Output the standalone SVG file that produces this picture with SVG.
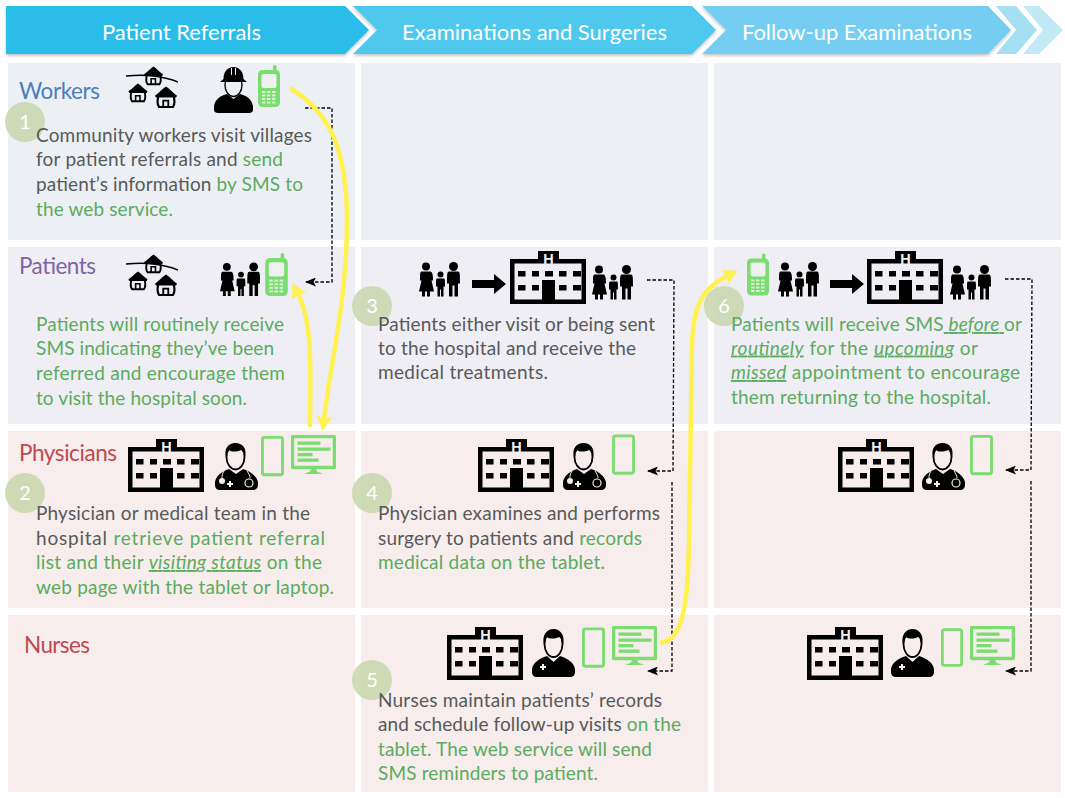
<svg xmlns="http://www.w3.org/2000/svg" width="1065" height="798" viewBox="0 0 1065 798">
<style>
text{font-family:"Lato","Carlito","Open Sans",sans-serif}
.b{font-size:19px;fill:#595959}
.g{fill:#5cab5f}
.bg{font-size:19px;fill:#5cab5f}
.u{font-style:italic;text-decoration:underline}
.t{font-size:22.500px}
.h{font-size:22px;fill:#fff}
.n{font-size:20px;fill:#fff;text-anchor:middle}
.w{fill:#ecf0f4}.p{fill:#efeef4}.r{fill:#f6edec}
.c{fill:#c8d6ab;fill-opacity:.85}
.d{fill:none;stroke:#000;stroke-width:1.300;stroke-dasharray:3.500 2}
.y{fill:none;stroke:#fff14f;stroke-width:4.500;stroke-linecap:butt}
</style>
<defs>
<filter id="sh" x="-5%" y="-20%" width="110%" height="140%"><feDropShadow dx="0" dy="2" stdDeviation="1.500" flood-color="#000" flood-opacity=".22"/></filter>
<marker id="ah" viewBox="0 0 11 9" refX="10" refY="4.500" markerWidth="11" markerHeight="9" markerUnits="userSpaceOnUse" orient="auto"><path d="M11,4.500 L0,0 L2.500,4.500 L0,9 Z" fill="#000"/></marker>
<marker id="ay" viewBox="0 0 15 16" refX="3" refY="8" markerWidth="15" markerHeight="16" markerUnits="userSpaceOnUse" orient="auto"><path d="M0,0 L15,8 L0,16 L3,8 Z" fill="#fff14f"/></marker>
<symbol id="hut" viewBox="0 0 24 24" overflow="visible"><path d="M0,10.500 C4,8 8,3 12,0.500 C16,3 20,8 24,10.500 L23,12.500 H1 Z" fill="#000"/><path d="M3.500,12 C2.500,16 3,21 4.500,23 H19.500 C21,21 21.500,16 20.500,12" fill="none" stroke="#000" stroke-width="2.400"/><path d="M9,23 V16 H14.500 V23" fill="none" stroke="#000" stroke-width="2"/></symbol>
<symbol id="village" viewBox="0 0 52 42"><path d="M0,10 C10,9 20,9 27,10 C35,11 45,13 52,16" fill="none" stroke="#000" stroke-width="1.600"/><use href="#hut" x="17" y="0" width="21" height="19"/><use href="#hut" x="1" y="17" width="22" height="19"/><use href="#hut" x="28" y="20" width="24" height="22"/></symbol>
<symbol id="family" viewBox="0 0 41 34"><circle cx="7" cy="4" r="4"/><path d="M3,9 H11 C13,9 14,11 14,18 H12.500 L15,29 H11 V34 H8 V29 H6 V34 H3 V29 H0 L2.500,18 H1 C1,11 1,9 3,9 Z"/><circle cx="21.500" cy="12" r="3"/><path d="M18,16 H25 C26,16 26,18 26,24 H24.500 V34 H22 V27 H21 V34 H18.500 V24 H17 C17,18 17,16 18,16 Z"/><circle cx="34.500" cy="4" r="4.500"/><path d="M30,9 H39 C41,9 41,12 41,21 H39 V34 H35.500 V23 H33.500 V34 H30 V21 H28 C28,12 28,9 30,9 Z"/></symbol>
<symbol id="hospital" viewBox="0 0 76 53"><path fill-rule="evenodd" d="M0,8 H28 V0 H49 V8 H76 V53 H0 Z M4.500,12.500 V48.500 H71.500 V12.500 Z"/><rect x="8" y="20" width="7.500" height="5.500"/><rect x="22" y="20" width="7" height="5.500"/><rect x="35" y="20" width="8" height="5.500"/><rect x="49" y="20" width="7.500" height="5.500"/><rect x="63" y="20" width="8" height="5.500"/><rect x="8" y="34" width="7.500" height="5.500"/><rect x="22" y="34" width="7" height="5.500"/><rect x="49" y="34" width="7.500" height="5.500"/><rect x="63" y="34" width="8" height="5.500"/><rect x="32" y="29" width="13" height="24"/><text x="38.500" y="12.500" text-anchor="middle" style="font-family:'Liberation Sans',sans-serif;font-size:14.500px;font-weight:bold;fill:#eee">H</text></symbol>
<symbol id="arrow" viewBox="0 0 34 20"><path d="M0,6 H22 V0 L34,10 L22,20 V14 H0 Z"/></symbol>
<symbol id="worker" viewBox="0 0 39 46"><path d="M0,43 C-1,34 5,29 13,27 L19.500,32 L26,27 C34,29 40,34 39,43 C39,45 37,46 35,46 H4 C2,46 0,45 0,43 Z"/><ellipse cx="19.500" cy="18" rx="8.500" ry="11.500" fill="#ecf0f4" stroke="#000" stroke-width="1.400"/><path d="M9.500,12 C9.500,5 13,0.500 19.500,0 C26,0.500 29.500,5 29.500,12 L33,15 H6 Z"/><path d="M17.500,1 V8 M21.500,1 V8" stroke="#ecf0f4" stroke-width="1"/></symbol>
<symbol id="doctor" viewBox="0 0 43 49"><path d="M0,42 C-1,35 5,29 14,26 L21,31 L28,26 C37,29 44,35 43,42 C43,45 41,47 38,47 H5 C2,47 0,45 0,42 Z"/><ellipse cx="20.500" cy="14" rx="9" ry="12.500" fill="#f6edec" stroke="#000" stroke-width="1.800"/><path d="M11,15 C8.500,5 14,0 20.500,0 C27,0 32.500,5 30,15 C29.500,10 28,8 26,7 C22,9 16,9 14,7 C13,9 11.500,11 11,15 Z"/><path d="M9,28 C7,31 7,33 7,35 M32,28 C34,31 35,33 35,35" fill="none" stroke="#f6edec" stroke-width="1"/><circle cx="7" cy="38" r="3" fill="#f6edec"/><circle cx="34" cy="40" r="4" fill="none" stroke="#f6edec" stroke-width="1.200"/><path d="M15,38 V44 M12,41 H18" stroke="#f6edec" stroke-width="2"/></symbol>
<symbol id="nurse" viewBox="0 0 43 48"><path d="M0,43 C-1,35 6,30 15,27 L21.500,33 L28,27 C37,30 44,35 43,43 C43,46 41,48 38,48 H5 C2,48 0,46 0,43 Z"/><ellipse cx="21.500" cy="15" rx="9" ry="13" fill="#f6edec" stroke="#000" stroke-width="1.800"/><path d="M12,16 C9.500,6 15,0 21.500,0 C28,0 33.500,6 31,16 C30.500,11 29,9 27,8 C23,10 17,10 15,8 C14,10 12.500,12 12,16 Z"/><path d="M11,35 V41 M8,38 H14" stroke="#f6edec" stroke-width="2"/></symbol>
<symbol id="phone" viewBox="0 0 22 42"><rect x="15" y="0" width="3.500" height="8" rx="1.500" fill="#7bdc6f"/><rect x="0" y="5" width="22" height="37" rx="4.500" fill="#7bdc6f"/><rect x="3.500" y="9" width="15" height="14" rx="2" fill="#eef1f0"/><g fill="#d9f3d3"><rect x="4" y="26" width="3.500" height="2"/><rect x="9" y="26" width="3.500" height="2"/><rect x="14" y="26" width="3.500" height="2"/><rect x="4" y="29.500" width="3.500" height="2"/><rect x="9" y="29.500" width="3.500" height="2"/><rect x="14" y="29.500" width="3.500" height="2"/><rect x="4" y="33" width="3.500" height="2"/><rect x="9" y="33" width="3.500" height="2"/><rect x="14" y="33" width="3.500" height="2"/><rect x="4" y="36.500" width="3.500" height="2"/><rect x="9" y="36.500" width="3.500" height="2"/><rect x="14" y="36.500" width="3.500" height="2"/></g></symbol>
<symbol id="tablet" viewBox="0 0 24 42"><rect x="1.500" y="1.500" width="21" height="39" rx="2" fill="none" stroke="#7bdc6f" stroke-width="3"/></symbol>
<symbol id="monitor" viewBox="0 0 45 39"><rect x="1.500" y="1.500" width="42" height="31" rx="1" fill="none" stroke="#7bdc6f" stroke-width="3.500"/><rect x="6.500" y="6.500" width="23" height="3.300" fill="#7bdc6f"/><rect x="6.500" y="12.500" width="33" height="3.300" fill="#7bdc6f"/><rect x="6.500" y="18" width="15" height="3.300" fill="#7bdc6f"/><rect x="6.500" y="23.500" width="21" height="3.300" fill="#7bdc6f"/><path d="M20,34 H25 L26,36.500 L32,39 H13 L19,36.500 Z" fill="#7bdc6f"/></symbol>
</defs>
<rect width="1065" height="798" fill="#fff"/>

<g id="cells">
<rect class="w" x="8" y="63" width="347" height="177"/><rect class="w" x="361" y="63" width="347" height="177"/><rect class="w" x="714" y="63" width="347" height="177"/>
<rect class="p" x="8" y="247" width="347" height="177"/><rect class="p" x="361" y="247" width="347" height="177"/><rect class="p" x="714" y="247" width="347" height="177"/>
<rect class="r" x="8" y="431" width="347" height="177"/><rect class="r" x="361" y="431" width="347" height="177"/><rect class="r" x="714" y="431" width="347" height="177"/>
<rect class="r" x="8" y="615" width="347" height="177"/><rect class="r" x="361" y="615" width="347" height="177"/><rect class="r" x="714" y="615" width="347" height="177"/>
</g>

<g id="header">
<path d="M1023,6 H1039 L1063,30 L1039,54 H1023 L1043,30 Z" fill="#c3e9f7"/>
<path d="M996,6 H1016 L1037,30 L1016,54 H996 L1016,30 Z" fill="#a5dff3"/>
<g id="stage3"><path d="M702,6 H988 L1011,30 L988,54 H702 L726,30 Z" fill="#74cef1" filter="url(#sh)"/><text class="h" x="742" y="40" textLength="230">Follow-up Examinations</text></g>
<g id="stage2"><path d="M353,6 H692 L716,30 L692,54 H353 L377,30 Z" fill="#4fc8ee" filter="url(#sh)"/><text class="h" x="402" y="40" textLength="265">Examinations and Surgeries</text></g>
<g id="stage1"><path d="M6,6 H345 L369,30 L345,54 H6 Z" fill="#29bdea" filter="url(#sh)"/><text class="h" x="102" y="40" textLength="159">Patient Referrals</text></g>
</g>

<g id="row-labels">
<text class="t" x="19" y="99" fill="#4a7ebb" textLength="81">Workers</text>
<text class="t" x="19" y="274" fill="#7f62a5" textLength="77">Patients</text>
<text class="t" x="19" y="461" fill="#c0484e" textLength="98">Physicians</text>
<text class="t" x="24" y="653" fill="#c0484e" textLength="66">Nurses</text>
</g>

<g id="step1">
<use href="#village" x="126" y="66" width="52" height="42"/><use href="#worker" x="214" y="67" width="39" height="46"/><use href="#phone" x="258" y="65" width="22" height="42"/>
<circle class="c" cx="25" cy="122" r="20"/><text class="n" x="25" y="129">1</text>
<text class="b" x="36" y="142" textLength="276">Community workers visit villages</text>
<text class="b" x="36" y="166" textLength="247">for patient referrals and <tspan class="g">send</tspan></text>
<text class="b" x="36" y="191" textLength="267">patient’s information <tspan class="g">by SMS to</tspan></text>
<text class="bg" x="36" y="215.500" textLength="137">the web service.</text>
</g>

<g id="patients-a">
<use href="#village" x="126" y="254" width="52" height="42"/><use href="#family" x="220" y="262" width="40" height="35"/><use href="#phone" x="265" y="253" width="23" height="43"/>
<text class="bg" x="36" y="331" textLength="248">Patients will routinely receive</text>
<text class="bg" x="36" y="355" textLength="238">SMS indicating they’ve been</text>
<text class="bg" x="36" y="380" textLength="249">referred and encourage them</text>
<text class="bg" x="36" y="405" textLength="211">to visit the hospital soon.</text>
</g>

<g id="step2">
<use href="#hospital" x="128" y="439" width="76" height="53"/><use href="#doctor" x="215" y="443" width="43" height="49"/><use href="#tablet" x="261" y="435" width="23" height="42"/><use href="#monitor" x="291" y="435" width="45" height="39"/>
<circle class="c" cx="25" cy="493" r="20"/><text class="n" x="25" y="500">2</text>
<text class="b" x="36" y="520" textLength="274">Physician or medical team in the</text>
<text class="b" x="36" y="544.500" textLength="289">hospital <tspan class="g">retrieve patient referral</tspan></text>
<text class="bg" x="36" y="569" textLength="286">list and their <tspan class="u">visiting status</tspan> on the</text>
<text class="bg" x="36" y="594" textLength="298">web page with the tablet or laptop.</text>
</g>

<g id="step3">
<use href="#family" x="419" y="262" width="41" height="35"/><use href="#arrow" x="472" y="274" width="34" height="20"/><use href="#hospital" x="510" y="251" width="76" height="53"/><use href="#family" x="592" y="265" width="41" height="35"/>
<circle class="c" cx="372" cy="306" r="20"/><text class="n" x="372" y="313">3</text>
<text class="b" x="378" y="331" textLength="277">Patients either visit or being sent</text>
<text class="b" x="378" y="354.500" textLength="258">to the hospital and receive the</text>
<text class="b" x="378" y="379" textLength="170">medical treatments.</text>
</g>

<g id="step4">
<use href="#hospital" x="478" y="439" width="76" height="53"/><use href="#doctor" x="563" y="443" width="43" height="49"/><use href="#tablet" x="612" y="434" width="23" height="41"/>
<circle class="c" cx="372" cy="493" r="20"/><text class="n" x="372" y="500">4</text>
<text class="b" x="378" y="520" textLength="282">Physician examines and performs</text>
<text class="b" x="378" y="544.500" textLength="264">surgery to patients and <tspan class="g">records</tspan></text>
<text class="bg" x="378" y="569" textLength="227">medical data on the tablet.</text>
</g>

<g id="step5">
<use href="#hospital" x="447" y="627" width="76" height="53"/><use href="#nurse" x="532" y="629" width="43" height="48"/><use href="#tablet" x="582" y="627" width="23" height="41"/><use href="#monitor" x="612" y="626" width="45" height="39"/>
<circle class="c" cx="372" cy="680" r="20"/><text class="n" x="372" y="687">5</text>
<text class="b" x="378" y="707" textLength="284">Nurses maintain patients’ records</text>
<text class="b" x="378" y="731" textLength="303">and schedule follow-up visits <tspan class="g">on the</tspan></text>
<text class="bg" x="378" y="755.500" textLength="274">tablet. The web service will send</text>
<text class="bg" x="378" y="780" textLength="220">SMS reminders to patient.</text>
</g>

<g id="step6">
<use href="#phone" x="747" y="253" width="22" height="43"/><use href="#family" x="778" y="262" width="41" height="35"/><use href="#arrow" x="830" y="274" width="34" height="20"/><use href="#hospital" x="867" y="251" width="76" height="53"/><use href="#family" x="950" y="265" width="41" height="35"/>
<circle class="c" cx="724" cy="306" r="20"/><text class="n" x="724" y="313">6</text>
<text class="bg" x="731" y="331" textLength="291">Patients will receive SMS<tspan class="u"> before </tspan>or</text>
<text class="bg" x="731" y="354.500" textLength="247"><tspan class="u">routinely</tspan> for the <tspan class="u">upcoming</tspan> or</text>
<text class="bg" x="731" y="379" textLength="289"><tspan class="u">missed</tspan> appointment to encourage</text>
<text class="bg" x="731" y="404" textLength="260">them returning to the hospital.</text>
</g>

<g id="physicians-c">
<use href="#hospital" x="838" y="439" width="76" height="53"/><use href="#doctor" x="922" y="443" width="43" height="49"/><use href="#tablet" x="970" y="434" width="23" height="42"/>
</g>
<g id="nurses-c">
<use href="#hospital" x="807" y="627" width="76" height="53"/><use href="#nurse" x="891" y="629" width="43" height="48"/><use href="#tablet" x="941" y="627" width="22" height="41"/><use href="#monitor" x="970" y="626" width="45" height="39"/>
</g>

<g id="connectors">
<path class="d" d="M305,108 H332 V282 H306" marker-end="url(#ah)"/>
<path class="d" d="M647,280 H674 L673,471 H648" marker-end="url(#ah)"/>
<path class="d" d="M672,482 V671 H648" marker-end="url(#ah)"/>
<path class="d" d="M1005,279 H1032 L1031,470 H1006" marker-end="url(#ah)"/>
<path class="d" d="M1031,481 V671 H1006" marker-end="url(#ah)"/>
<path class="y" d="M290,88 C330,112 347,150 347,220 C347,300 331,360 324,419" marker-end="url(#ay)"/>
<path class="y" d="M310,427 C310,380 314,325 298,294" marker-end="url(#ay)"/>
<path class="y" d="M660,643 C682,640 688,610 689,540 L692,345 C693,305 703,288 727,276" marker-end="url(#ay)"/>
</g>
</svg>
